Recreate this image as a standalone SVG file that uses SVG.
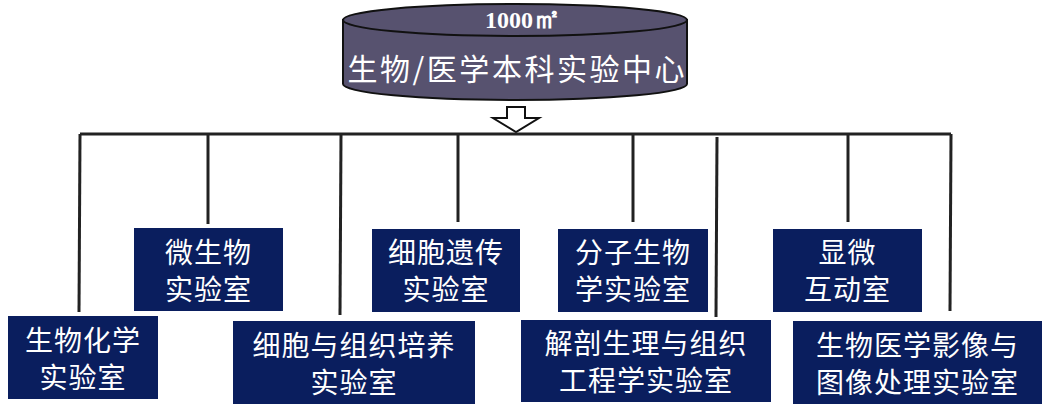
<svg xmlns="http://www.w3.org/2000/svg" width="1042" height="404" viewBox="0 0 1042 404">
<style>
.box{fill:#0A1E5E}
.lbl{font-family:"Noto Sans CJK SC","Noto Sans",sans-serif;font-size:28px;fill:#ffffff;text-anchor:middle;dominant-baseline:central;letter-spacing:1px}
.ln{stroke:#222222;stroke-width:3;fill:none}
</style>
<rect width="1042" height="404" fill="#ffffff"/>
<g id="center">
<path d="M343,20 L343,84 A172,16 0 0 0 687,84 L687,20 Z" fill="#57526F" stroke="#111" stroke-width="2"/>
<ellipse cx="515" cy="20" rx="172" ry="16" fill="#57526F" stroke="#111" stroke-width="2"/>
<text x="523" y="28" font-family="'Liberation Serif',serif" font-weight="bold" font-size="24" fill="#fff" text-anchor="middle"><tspan>1000</tspan><tspan font-size="28">㎡</tspan></text>
<text x="516" y="67" font-family="'Noto Sans CJK SC','Noto Sans',sans-serif" font-size="30" fill="#fff" text-anchor="middle" dominant-baseline="central" textLength="337" lengthAdjust="spacing">生物/医学本科实验中心</text>
</g>
<g id="connectors">
<path d="M507,107 L525,107 L525,118 L539,118 L516,132 L493,118 L507,118 Z" fill="#fff" stroke="#111" stroke-width="2"/>
<path class="ln" d="M80,134 L951,134"/>
<path class="ln" d="M80,134 L79,312"/>
<path class="ln" d="M208,134 L208,224"/>
<path class="ln" d="M341,134 L340,315"/>
<path class="ln" d="M458,134 L458,222"/>
<path class="ln" d="M633,134 L633,222"/>
<path class="ln" d="M717,137 L716,317"/>
<path class="ln" d="M848,134 L848,222"/>
<path class="ln" d="M951,134 L950,311"/>
</g>
<g id="n1"><rect class="box" x="8" y="316" width="150" height="83"/><text class="lbl" x="83" y="339">生物化学</text><text class="lbl" x="83" y="376">实验室</text></g>
<g id="n2"><rect class="box" x="134" y="228" width="149" height="83"/><text class="lbl" x="208.5" y="250.5">微生物</text><text class="lbl" x="208.5" y="287.5">实验室</text></g>
<g id="n3"><rect class="box" x="233" y="321" width="242" height="83"/><text class="lbl" x="354" y="343.5">细胞与组织培养</text><text class="lbl" x="354" y="380.5">实验室</text></g>
<g id="n4"><rect class="box" x="372" y="229" width="148" height="83"/><text class="lbl" x="446" y="251">细胞遗传</text><text class="lbl" x="446" y="288">实验室</text></g>
<g id="n5"><rect class="box" x="558" y="229" width="150" height="83"/><text class="lbl" x="633" y="251">分子生物</text><text class="lbl" x="633" y="288">学实验室</text></g>
<g id="n6"><rect class="box" x="521" y="320" width="250" height="82"/><text class="lbl" x="646" y="341.5">解剖生理与组织</text><text class="lbl" x="646" y="378.5">工程学实验室</text></g>
<g id="n7"><rect class="box" x="773" y="229" width="149" height="83"/><text class="lbl" x="847.5" y="251">显微</text><text class="lbl" x="847.5" y="288">互动室</text></g>
<g id="n8"><rect class="box" x="793" y="321" width="249" height="83"/><text class="lbl" x="917.5" y="343.5">生物医学影像与</text><text class="lbl" x="917.5" y="380.5">图像处理实验室</text></g>
</svg>
